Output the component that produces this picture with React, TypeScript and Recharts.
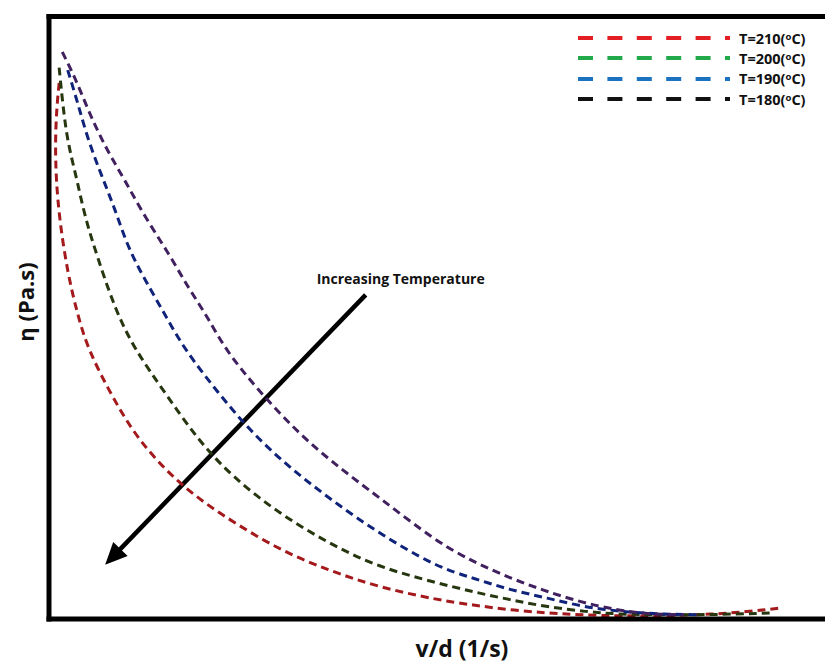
import { LineChart, Line, XAxis, YAxis, ReferenceLine, Legend, Label } from 'recharts';

// valores (sin escala en los ejes, unidades 0-100)
const xDomain = [0, 100];
const yDomain = [0, 100];

const t210: [number, number][] = [
  [1.3, 89.0], [1.0, 85.0], [0.8, 79.5], [0.9, 72.9], [1.4, 65.7], [2.4, 57.4], [3.6, 50.8],
  [5.0, 44.7], [8.1, 36.9], [11.4, 29.7], [16.5, 22.6], [21.7, 17.6], [29.4, 11.5], [35.8, 8.1],
  [42.2, 5.3], [49.7, 3.2], [54.4, 2.3], [59.1, 1.5], [63.9, 1.0], [68.1, 0.7], [73.2, 0.5],
  [78.7, 0.5], [85.1, 0.8], [89.5, 1.2], [93.7, 1.8],
];

const t200: [number, number][] = [
  [1.3, 91.5], [1.8, 85.0], [2.4, 79.0], [3.6, 72.9], [4.6, 66.7], [6.2, 60.1], [8.5, 51.3],
  [11.0, 44.7], [14.9, 37.5], [19.1, 29.7], [23.5, 23.6], [29.4, 17.6], [35.8, 12.6], [42.2, 8.6],
  [49.7, 6.0], [54.4, 4.5], [59.1, 3.2], [63.9, 2.0], [69.0, 1.2], [72.8, 0.8], [78.3, 0.7],
  [84.7, 0.7], [92.8, 1.0],
];

const t190: [number, number][] = [
  [2.4, 91.1], [3.7, 85.6], [5.0, 79.5], [6.8, 73.4], [8.5, 67.9], [10.1, 61.7], [12.3, 56.3],
  [15.1, 50.0], [17.4, 44.7], [21.7, 37.5], [26.0, 30.9], [31.2, 24.7], [36.7, 19.3], [42.2, 14.3],
  [49.7, 8.6], [54.4, 6.8], [59.1, 4.8], [63.9, 3.5], [68.5, 2.0], [73.6, 1.2], [78.3, 0.8],
  [83.5, 0.7],
];

const t180: [number, number][] = [
  [1.7, 94.1], [3.3, 90.0], [5.0, 84.5], [7.2, 78.3], [9.7, 72.9], [12.3, 66.7], [15.3, 60.8],
  [17.8, 55.1], [20.4, 50.0], [22.6, 44.7], [26.8, 38.0], [31.9, 30.9], [37.1, 25.2], [42.2, 20.3],
  [49.7, 12.8], [54.4, 9.5], [59.1, 6.8], [63.3, 4.8], [68.1, 2.8], [72.8, 1.5], [76.7, 0.8],
  [81.3, 0.7],
];

// flecha "Increasing Temperature": cola y punta
const arrowSegment = [
  { x: 40.6, y: 53.8 },
  { x: 7.2, y: 9.0 },
];

const series = [
  { name: 'T=210', points: t210, stroke: '#a3191c', legendColor: '#e31e24' },
  { name: 'T=200', points: t200, stroke: '#26360f', legendColor: '#22aa4a' },
  { name: 'T=190', points: t190, stroke: '#10237a', legendColor: '#1b72c0' },
  { name: 'T=180', points: t180, stroke: '#40205e', legendColor: '#111111' },
];

const FONT = "'Open Sans', Lato, sans-serif";

const toRows = (pts: [number, number][]) => pts.map(([x, y]) => ({ x, y }));

const ArrowShape = (props: any) => {
  const { x1, y1, x2, y2 } = props;
  // la cola es el punto más alto
  const [tx, ty, hx, hy] = y1 < y2 ? [x1, y1, x2, y2] : [x2, y2, x1, y1];
  const dx = hx - tx;
  const dy = hy - ty;
  const len = Math.hypot(dx, dy);
  const ux = dx / len;
  const uy = dy / len;
  const headLen = 22;
  const headW = 10;
  const bx = hx - ux * headLen;
  const by = hy - uy * headLen;
  const px = -uy;
  const py = ux;
  return (
    <g>
      <line x1={tx} y1={ty} x2={bx + ux * 2} y2={by + uy * 2} stroke="#000" strokeWidth={4.5} />
      <polygon
        points={`${hx},${hy} ${bx + px * headW},${by + py * headW} ${bx - px * headW},${by - py * headW}`}
        fill="#000"
      />
      <text
        x={tx + 35}
        y={ty - 11}
        textAnchor="middle"
        fontFamily={FONT}
        fontWeight={700}
        fontSize={14}
        fill="#111"
      >
        Increasing Temperature
      </text>
    </g>
  );
};

const CustomLegend = ({ payload }: any) => {
  const names = series.map((s) => s.name);
  const items = [...(payload || [])].sort((a: any, b: any) => names.indexOf(a.value) - names.indexOf(b.value));
  return (
    <div style={{ fontFamily: FONT, fontWeight: 700, fontSize: 14.5, color: '#111' }}>
      {items.map((entry: any, index: number) => {
        const s = series.find((d) => d.name === entry.value);
        return (
          <div key={index} style={{ display: 'flex', alignItems: 'center', height: 20.3 }}>
            <svg width={152} height={8} style={{ display: 'block' }}>
              <line
                x1={0}
                y1={4}
                x2={152}
                y2={4}
                stroke={s ? s.legendColor : entry.color}
                strokeWidth={4}
                strokeDasharray="15 14.4"
              />
            </svg>
            <span style={{ marginLeft: 9, whiteSpace: 'nowrap' }}>
              {entry.value}(<sup style={{ fontSize: 9.5, verticalAlign: 4 }}>o</sup>C)
            </span>
          </div>
        );
      })}
    </div>
  );
};

export default function App() {
  return (
    <div
      style={{
        position: 'absolute',
        left: 0,
        top: 0,
        width: 825,
        height: 666,
        overflow: 'hidden',
        background: '#fff',
      }}
    >
      <LineChart width={829} height={666} margin={{ top: 16.5, right: 0, left: 0, bottom: 0 }}>
        <XAxis
          dataKey="x"
          type="number"
          domain={xDomain}
          allowDataOverflow
          height={47}
          tick={false}
          tickLine={false}
          axisLine={{ stroke: '#000', strokeWidth: 5, strokeLinecap: 'square' }}
        >
          <Label
            content={({ viewBox }: any) => {
              const vb = viewBox || { x: 49, y: 619, width: 780 };
              const cx = vb.x + vb.width / 2 + 23;
              return (
                <text
                  x={cx}
                  y={657}
                  textAnchor="middle"
                  fontFamily={FONT}
                  fontWeight={700}
                  fontSize={23}
                  fill="#111"
                >
                  v/d (1/s)
                </text>
              );
            }}
          />
        </XAxis>
        <YAxis
          type="number"
          domain={yDomain}
          allowDataOverflow
          width={49}
          tick={false}
          tickLine={false}
          axisLine={{ stroke: '#000', strokeWidth: 5, strokeLinecap: 'square' }}
        >
          <Label
            content={() => (
              <text
                x={25}
                y={302}
                transform="rotate(-90 25 302)"
                textAnchor="middle"
                dominantBaseline="central"
                fontFamily={FONT}
                fontWeight={700}
                fontSize={22}
                fill="#111"
              >
                η (Pa.s)
              </text>
            )}
          />
        </YAxis>
        <ReferenceLine y={100} stroke="#000" strokeWidth={5} strokeLinecap="square" />
        <ReferenceLine segment={arrowSegment} shape={ArrowShape} ifOverflow="visible" />
        <Legend
          content={<CustomLegend />}
          layout="horizontal"
          verticalAlign="middle"
          align="center"
          wrapperStyle={{ top: 28, left: 578, width: 'auto' }}
        />
        {series.map((s) => (
          <Line
            key={s.name}
            data={toRows(s.points)}
            dataKey="y"
            name={s.name}
            type="basis"
            stroke={s.stroke}
            strokeWidth={3}
            strokeDasharray="8 5"
            dot={false}
            activeDot={false}
            isAnimationActive={false}
          />
        ))}
      </LineChart>
    </div>
  );
}
